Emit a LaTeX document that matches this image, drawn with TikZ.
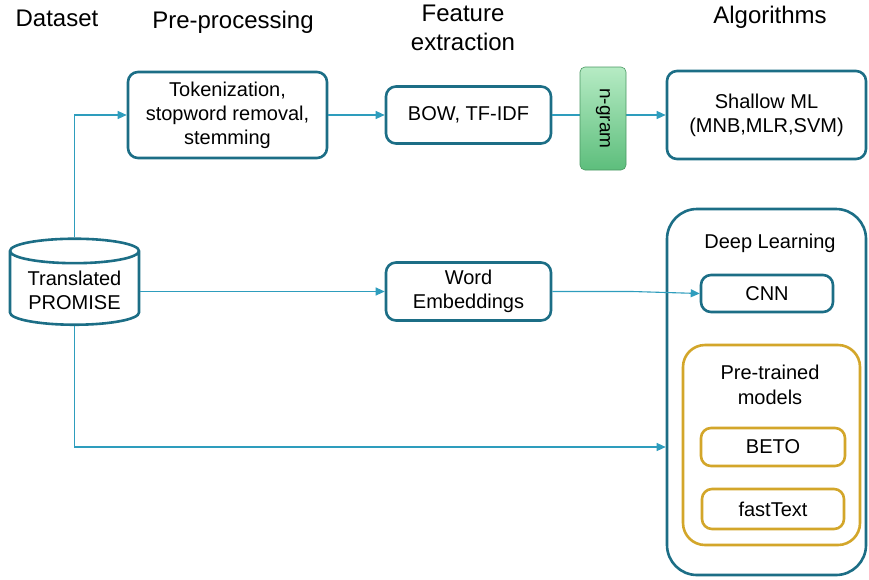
\documentclass[tikz,border=0pt]{standalone}
\usepackage{fontspec}
\setmainfont{Liberation Sans}
\usetikzlibrary{positioning,shapes.geometric,arrows.meta}

\definecolor{boxline}{HTML}{1C6E86}
\definecolor{flow}{HTML}{2E9DBD}
\definecolor{gold}{HTML}{D3A62A}
\definecolor{gramtop}{HTML}{B6EBC4}
\definecolor{grambot}{HTML}{5DBE7C}

\begin{document}
\begin{tikzpicture}[x=1pt, y=-1pt,
box/.style={rectangle, draw=boxline, fill=white, line width=2.6pt, rounded corners=10pt, align=center, inner sep=2pt, font=\fontsize{20}{24}\selectfont},
goldbox/.style={box, draw=gold},
heading/.style={align=center, font=\fontsize{24}{29}\selectfont},
flowline/.style={draw=flow, line width=1.1pt, -{Triangle[length=9pt, width=8pt]}}
]
\useasboundingbox (0,0) rectangle (869,579);

% column headings
\node[heading](h_data) at (57,18){Dataset};
\node[heading](h_pre) at (233,22){Pre-processing};
\node[heading](h_feat) at (463,28){Feature\\extraction};
\node[heading](h_alg) at (770,17){Algorithms};

% top row
\node[box, minimum width=199pt, minimum height=86pt](pre) at (227.5,115){Tokenization,\\stopword removal,\\stemming};
\node[box, minimum width=165pt, minimum height=57pt](bow)[right of = pre, node distance=241pt]{BOW, TF-IDF};
\node[box, minimum width=199pt, minimum height=88pt](shallow)[right of = bow, node distance=298pt]{Shallow ML\\(MNB,MLR,SVM)};

% dataset
\node[cylinder, shape border rotate=90, aspect=0.25, draw=boxline, fill=white, line width=2.6pt, minimum width=129pt, minimum height=86pt, align=center, inner sep=2pt, font=\fontsize{20}{24}\selectfont](db) at (74.5,290){Translated\\PROMISE};

% middle row
\node[box, minimum width=165pt, minimum height=58pt](emb)[below of = bow, node distance=176.5pt]{Word\\Embeddings};

% deep learning group
\node[box, rounded corners=30pt, minimum width=199pt, minimum height=366pt](dl) at (766.5,392){};
\node[font=\fontsize{20}{24}\selectfont](dl_title) at (770,243){Deep Learning};
\node[box, minimum width=132pt, minimum height=37pt](cnn) at (767,293.5){CNN};
\node[goldbox, rounded corners=22pt, minimum width=177pt, minimum height=200pt](pt) at (771.5,445){};
\node[align=center, font=\fontsize{20}{25}\selectfont](pt_title) at (770,385){Pre-trained\\models};
\node[goldbox, minimum width=144pt, minimum height=38pt](beto) at (773,447){BETO};
\node[goldbox, minimum width=142pt, minimum height=40pt](fast)[below of = beto, node distance=62pt]{fastText};

% connectors
\draw[flowline] (db.north) |- (pre.west);
\draw[flowline] (pre) -- (bow);
\draw[flowline] (bow) -- (shallow);
\draw[flowline] (db.east |- emb.west) -- (emb.west);
\draw[flowline] (emb.east) -- ++(80,0) -- (cnn.west);
\draw[flowline] (db.south) |- (dl.west |- beto.west);

% n-gram on top of the line
\node[rectangle, rounded corners=5pt, top color=gramtop, bottom color=grambot, draw=grambot!80!black, line width=0.6pt, minimum width=103pt, minimum height=46pt, rotate=-90, font=\fontsize{19}{22}\selectfont](ngram) at (603,118.5){n-gram};

\end{tikzpicture}
\end{document}
